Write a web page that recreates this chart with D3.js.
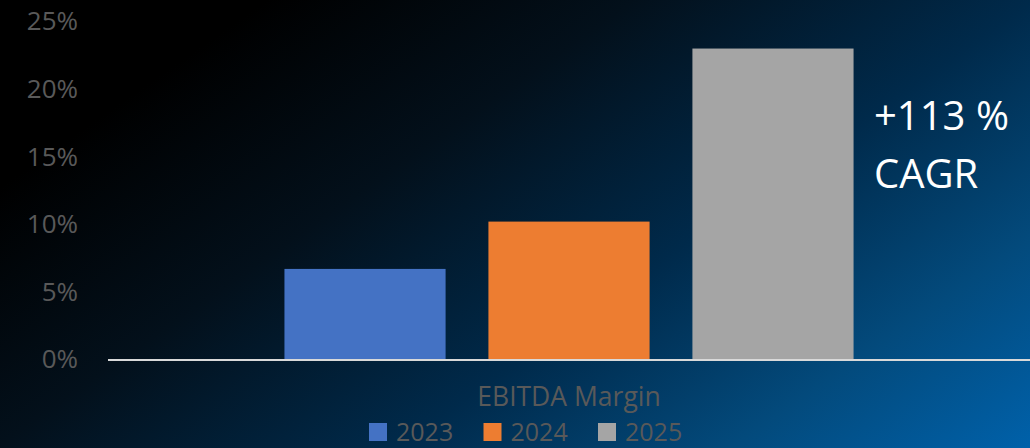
<!DOCTYPE html>
<html>
<head>
<meta charset="utf-8">
<script src="https://cdn.jsdelivr.net/npm/d3@7"></script>
<style>
  html, body { margin: 0; padding: 0; background: #000; }
  svg { display: block; font-family: "Open Sans", sans-serif; }
</style>
</head>
<body>
<div id="chart"></div>
<script>
// chart values
const categories = ['EBITDA Margin'];
const years = ['2023', '2024', '2025'];
const margins = [0.067, 0.102, 0.23];
const yTicks = [0, 0.05, 0.10, 0.15, 0.20, 0.25];
const annotation = ['+113 %', 'CAGR'];
const colors = ['#4472c4', '#ed7d31', '#a5a5a5'];

const width = 1030, height = 448;
const margin = {top: 21.5, right: 0, bottom: 88.5, left: 108};

const svg = d3.select('#chart').append('svg')
    .attr('width', width)
    .attr('height', height);

// background: black at top-left, blue toward bottom-right
const defs = svg.append('defs');
const grad = defs.append('linearGradient')
    .attr('id', 'bg')
    .attr('gradientUnits', 'userSpaceOnUse')
    .attr('x1', 0).attr('y1', 0)
    .attr('x2', 549).attr('y2', 785);
[[0, '#000000'], [0.16, '#000000'], [0.38, '#03101b'], [0.62, '#002a4b'], [0.82, '#034a7c'], [1, '#0061aa']]
    .forEach(([o, c]) => grad.append('stop').attr('offset', o).attr('stop-color', c));

svg.append('rect')
    .attr('width', width)
    .attr('height', height)
    .attr('fill', 'url(#bg)');

const x0 = d3.scaleBand()
    .domain(categories)
    .range([margin.left, width - margin.right]);

const x1 = d3.scaleBand()
    .domain(years)
    .range([0, x0.bandwidth()])
    .paddingInner(0.21)
    .paddingOuter(0.865);

const y = d3.scaleLinear()
    .domain([0, 0.25])
    .range([height - margin.bottom, margin.top]);

const color = d3.scaleOrdinal().domain(years).range(colors);

// y axis labels only, no line
const yAxis = d3.axisLeft(y)
    .tickValues(yTicks)
    .tickFormat(d3.format('.0%'))
    .tickSize(0)
    .tickPadding(30);

const yAxisG = svg.append('g')
    .attr('transform', `translate(${margin.left},0)`)
    .call(yAxis);
yAxisG.select('.domain').remove();
yAxisG.selectAll('text')
    .attr('fill', '#595959')
    .style('font-family', '"Open Sans", sans-serif')
    .style('font-size', '26px');

// bars
const rows = years.map((yr, i) => ({year: yr, value: margins[i], cat: categories[0]}));

svg.append('g')
    .selectAll('rect')
    .data(rows)
    .join('rect')
    .attr('x', d => x0(d.cat) + x1(d.year))
    .attr('y', d => y(d.value))
    .attr('width', x1.bandwidth())
    .attr('height', d => y(0) - y(d.value))
    .attr('fill', d => color(d.year));

// baseline
svg.append('line')
    .attr('x1', margin.left)
    .attr('x2', width)
    .attr('y1', y(0) + 0.5)
    .attr('y2', y(0) + 0.5)
    .attr('stroke', '#d9d9d9')
    .attr('stroke-width', 2);

// category label
svg.append('text')
    .attr('x', x0(categories[0]) + x0.bandwidth() / 2)
    .attr('y', 406)
    .attr('text-anchor', 'middle')
    .attr('fill', '#595959')
    .style('font-size', '26.5px')
    .text(categories[0]);

// legend
const legend = svg.append('g')
    .selectAll('g')
    .data(years)
    .join('g')
    .attr('transform', (d, i) => `translate(${369 + i * 114.5},423)`);

legend.append('rect')
    .attr('width', 18)
    .attr('height', 18)
    .attr('fill', d => color(d));

legend.append('text')
    .attr('x', 27)
    .attr('y', 18)
    .attr('fill', '#595959')
    .style('font-size', '25px')
    .text(d => d);

// CAGR annotation
svg.append('text')
    .attr('x', 874)
    .attr('y', 130)
    .attr('fill', '#ffffff')
    .style('font-size', '40px')
    .selectAll('tspan')
    .data(annotation)
    .join('tspan')
    .attr('x', 874)
    .attr('dy', (d, i) => i === 0 ? 0 : 58)
    .text(d => d);
</script>
</body>
</html>
